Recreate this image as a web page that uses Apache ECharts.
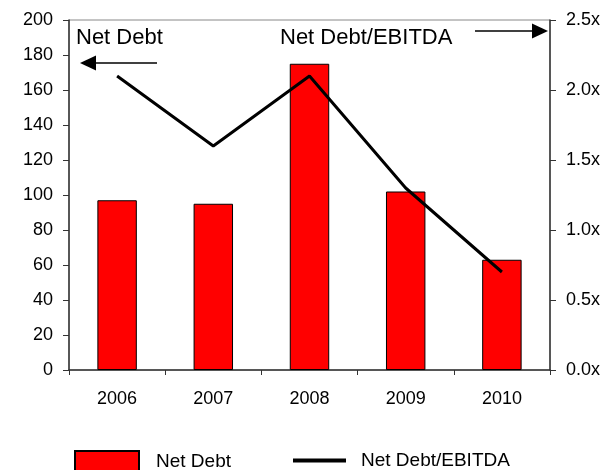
<!DOCTYPE html>
<html>
<head>
<meta charset="utf-8">
<script src="https://cdn.jsdelivr.net/npm/echarts@6/dist/echarts.min.js"></script>
<style>
  html, body { margin: 0; padding: 0; background: #fff; }
  #chart { width: 607px; height: 470px; }
</style>
</head>
<body>
<div id="chart"></div>
<script>
// Net debt (bars, left axis) and leverage multiple (line, right axis)
const years = ['2006', '2007', '2008', '2009', '2010'];
const netDebt = [97, 95, 175, 102, 63];
const netDebtToEbitda = [2.1, 1.6, 2.1, 1.3, 0.7];

const FONT = '"Liberation Sans", Arial, sans-serif';

const chart = echarts.init(document.getElementById('chart'), null, { renderer: 'canvas' });

// Annotation arrows pointing at the axis each series belongs to
function arrow(x1, x2, y) {
  const dir = Math.sign(x2 - x1);
  const headLen = 16, headHalf = 7.5;
  return [
    { type: 'line', shape: { x1: x1, y1: y, x2: x2 - dir * headLen, y2: y },
      style: { stroke: '#000', lineWidth: 1.5 } },
    { type: 'polygon', shape: { points: [[x2, y], [x2 - dir * headLen, y - headHalf], [x2 - dir * headLen, y + headHalf]] },
      style: { fill: '#000' } }
  ];
}

chart.setOption({
  animation: false,
  textStyle: { fontFamily: FONT, color: '#000' },
  grid: { left: 69, right: 57, top: 20, bottom: 100, show: true, borderColor: '#888', borderWidth: 1 },
  legend: [
    { data: [{ name: 'Net Debt', icon: 'rect' }], left: 74, top: 450, padding: 0, itemWidth: 64, itemHeight: 22,
      textStyle: { fontSize: 19, fontFamily: FONT, color: '#000', padding: [0, 0, 0, 12] } },
    { data: [{ name: 'Net Debt/EBITDA', icon: 'rect' }], left: 293, top: 451, padding: 0, itemWidth: 53, itemHeight: 4,
      textStyle: { fontSize: 19, fontFamily: FONT, color: '#000', padding: [0, 0, 0, 10] } }
  ],
  xAxis: {
    type: 'category',
    data: years,
    axisLine: { lineStyle: { color: '#333', width: 1.5 } },
    axisTick: { show: true, length: 5, lineStyle: { color: '#333' } },
    axisLabel: { fontSize: 18, color: '#000', margin: 20, fontFamily: FONT }
  },
  yAxis: [
    {
      type: 'value', min: 0, max: 200, interval: 20,
      axisLine: { show: true, lineStyle: { color: '#333', width: 1.5 } },
      axisTick: { show: true, length: 6, lineStyle: { color: '#333' } },
      axisLabel: { fontSize: 18, color: '#000', margin: 16, fontFamily: FONT },
      splitLine: { show: false }
    },
    {
      type: 'value', min: 0, max: 2.5, interval: 0.5, position: 'right',
      axisLine: { show: true, lineStyle: { color: '#333', width: 1.5 } },
      axisTick: { show: true, length: 6, lineStyle: { color: '#333' } },
      axisLabel: { fontSize: 18, color: '#000', margin: 16, fontFamily: FONT,
        formatter: v => v.toFixed(1) + 'x' },
      splitLine: { show: false }
    }
  ],
  series: [
    {
      name: 'Net Debt', type: 'bar', yAxisIndex: 0, data: netDebt,
      barWidth: '41%',
      itemStyle: { color: '#ff0000', borderColor: '#000', borderWidth: 1 }
    },
    {
      name: 'Net Debt/EBITDA', type: 'line', yAxisIndex: 1, data: netDebtToEbitda,
      symbol: 'none',
      lineStyle: { color: '#000', width: 3 },
      itemStyle: { color: '#000' }
    }
  ],
  graphic: [
    { type: 'text', left: 76, top: 27,
      style: { text: 'Net Debt', fontSize: 22, fontFamily: FONT, fill: '#000' } },
    { type: 'text', left: 280, top: 27,
      style: { text: 'Net Debt/EBITDA', fontSize: 22, fontFamily: FONT, fill: '#000' } },
    ...arrow(157, 80, 63),
    ...arrow(475, 548, 31)
  ]
});
</script>
</body>
</html>
